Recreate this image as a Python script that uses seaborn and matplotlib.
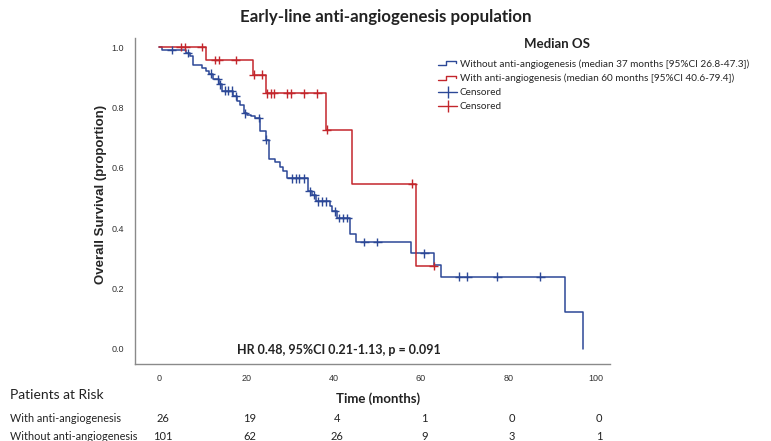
import numpy as np
import pandas as pd
import matplotlib
matplotlib.use('Agg')
import matplotlib.pyplot as plt
import seaborn as sns
from matplotlib.lines import Line2D
from matplotlib.legend_handler import HandlerBase

# step curves: event time (months) and survival after the step
without_times = [0, 0.7, 6.2, 7.2, 7.8, 9.8, 10.8, 11.5, 12.3, 13.8, 14.4, 16.9, 17.9, 18.6,
                 19.4, 20.2, 21.0, 22.0, 23.2, 24.5, 25.3, 26.6, 27.6, 28.5, 29.4, 34.2,
                 35.0, 35.9, 39.2, 39.6, 40.7, 43.8, 45.1, 57.8, 62.9, 64.6, 93.0, 97.1]
without_surv = [1.0, 0.99, 0.98, 0.969, 0.942, 0.932, 0.921, 0.912, 0.893, 0.877, 0.855, 0.838,
                0.822, 0.809, 0.781, 0.776, 0.770, 0.765, 0.723, 0.693, 0.629, 0.618, 0.604,
                0.591, 0.565, 0.522, 0.510, 0.489, 0.473, 0.456, 0.434, 0.380, 0.354, 0.317,
                0.279, 0.239, 0.121, 0.0]
without_cens = [2.9, 6.6, 11.9, 13.4, 14.0, 15.1, 15.9, 16.7, 17.6, 19.7, 22.8, 24.5, 30.4,
                31.3, 32.1, 33.1, 34.5, 35.6, 36.5, 37.3, 38.3, 40.3, 41.3, 42.2, 43.1,
                47.0, 50.0, 60.8, 68.7, 70.6, 77.5, 87.3]

with_times = [0, 10.8, 21.6, 24.4, 38.3, 44.1, 58.8]
with_surv = [1.0, 0.957, 0.909, 0.847, 0.726, 0.547, 0.275]
with_cens = [5.0, 6.0, 9.8, 12.8, 13.7, 17.6, 21.7, 23.6, 24.7, 25.6, 26.3, 29.4, 30.2,
             33.2, 36.3, 38.4, 58.0, 62.9]

risk_times = [0, 20, 40, 60, 80, 100]
risk_with = [26, 19, 4, 1, 0, 0]
risk_without = [101, 62, 26, 9, 3, 1]

blue = '#2c4897'
red = '#c3262c'


def step_value(times, surv, t):
    idx = np.searchsorted(times, t, side='right') - 1
    return np.array(surv)[idx]


curves = []
for name, times, surv, cens in [('Without', without_times, without_surv, without_cens),
                                ('With', with_times, with_surv, with_cens)]:
    t = list(times)
    s = list(surv)
    if max(cens) > t[-1]:
        t.append(max(cens))
        s.append(s[-1])
    curves.append(pd.DataFrame({'time': t, 'surv': s, 'group': name}))
curve_df = pd.concat(curves, ignore_index=True)

cens_df = pd.concat([
    pd.DataFrame({'time': without_cens,
                  'surv': step_value(without_times, without_surv, without_cens),
                  'group': 'Without'}),
    pd.DataFrame({'time': with_cens,
                  'surv': step_value(with_times, with_surv, with_cens),
                  'group': 'With'}),
], ignore_index=True)

sns.set_style('white')
plt.rcParams['font.family'] = ['Lato', 'DejaVu Sans']

fig = plt.figure(figsize=(7.71, 4.41), dpi=100)
ax = fig.add_axes([135 / 771, 1 - 364 / 441, 475 / 771, 326 / 441])

palette = {'Without': blue, 'With': red}
sns.lineplot(data=curve_df, x='time', y='surv', hue='group', palette=palette,
             estimator=None, drawstyle='steps-post', linewidth=1.1, legend=False, ax=ax)
sns.scatterplot(data=cens_df, x='time', y='surv', hue='group', palette=palette,
                marker='+', s=40, linewidth=1.0, legend=False, ax=ax, zorder=3)

ax.set_xlim(-5.5, 103.3)
ax.set_ylim(-0.05, 1.03)
ax.set_xticks(risk_times)
ax.set_yticks([0, 0.2, 0.4, 0.6, 0.8, 1.0])
ax.set_xticklabels([str(v) for v in risk_times], fontsize=6.5, family='Liberation Sans', color='#333333')
ax.set_yticklabels(['0.0', '0.2', '0.4', '0.6', '0.8', '1.0'], fontsize=6.5,
                   family='Liberation Sans', color='#333333')
ax.tick_params(axis='x', length=0, pad=7)
ax.tick_params(axis='y', length=0, pad=8)
ax.set_xlabel('')
ax.set_ylabel('Overall Survival (proportion)', fontsize=9.5, fontweight='bold',
              family='Liberation Sans', labelpad=8)
ax.yaxis.set_label_coords(-0.058, 0.52)
for side in ['top', 'right']:
    ax.spines[side].set_visible(False)
for side in ['left', 'bottom']:
    ax.spines[side].set_color('#8a8a8a')
    ax.spines[side].set_linewidth(1.0)

ax.text(0.43, 0.043, 'HR 0.48, 95%CI 0.21-1.13, p = 0.091', transform=ax.transAxes,
        ha='center', va='center', fontsize=9, fontweight='bold', color='#222222')

fig.text(386 / 771, 1 - 17 / 441, 'Early-line anti-angiogenesis population', ha='center',
         va='center', fontsize=12.2, fontweight='bold', color='#222222')


class StepHandler(HandlerBase):
    def create_artists(self, legend, orig_handle, xdescent, ydescent, width, height,
                       fontsize, trans):
        x0 = -xdescent
        y0 = -ydescent
        xs = [x0, x0 + 0.4 * width, x0 + 0.4 * width, x0 + 0.95 * width, x0 + 0.95 * width]
        ys = [y0 + 0.15 * height, y0 + 0.15 * height, y0 + 0.75 * height,
              y0 + 0.75 * height, y0 + 0.45 * height]
        line = Line2D(xs, ys, color=orig_handle.get_color(), linewidth=1.0, transform=trans)
        return [line]


h_without = Line2D([], [], color=blue)
h_with = Line2D([], [], color=red)
h_cb = Line2D([], [], color=blue, marker='|', markersize=8, linewidth=1.0)
h_cr = Line2D([], [], color=red, marker='|', markersize=8, linewidth=1.0)
labels = ['Without anti-angiogenesis (median 37 months [95%CI 26.8-47.3])',
          'With anti-angiogenesis (median 60 months [95%CI 40.6-79.4])',
          'Censored', 'Censored']
fig.legend([h_without, h_with, h_cb, h_cr], labels, loc='upper left',
           bbox_to_anchor=(434 / 771, 1 - 55 / 441), frameon=False, fontsize=7.2,
           handlelength=1.9, handletextpad=0.3, labelspacing=0.5, borderaxespad=0,
           handler_map={h_without: StepHandler(), h_with: StepHandler()})
fig.text(557 / 771, 1 - 44 / 441, 'Median OS', ha='center', va='center', fontsize=9.5,
         fontweight='bold', color='#222222')

# patients at risk table
fig.text(10 / 771, 1 - 395 / 441, 'Patients at Risk', ha='left', va='center', fontsize=10,
         color='#222222')
fig.text(378 / 771, 1 - 399 / 441, 'Time (months)', ha='center', va='center', fontsize=9.5,
         fontweight='bold', color='#222222')
xt = ax.get_xaxis_transform()
for row_y, row_label, row_vals in [(419, 'With anti-angiogenesis', risk_with),
                                   (437, 'Without anti-angiogenesis', risk_without)]:
    fig.text(10 / 771, 1 - row_y / 441, row_label, ha='left', va='center', fontsize=7.8,
             color='#222222')
    y_ax = (1 - row_y / 441 - (1 - 364 / 441)) / (326 / 441)
    for t, v in zip(risk_times, row_vals):
        ax.text(t + 0.8, y_ax, str(v), transform=xt, ha='center', va='center', fontsize=8,
                color='#222222', clip_on=False)

fig.savefig('out.png', dpi=100)
